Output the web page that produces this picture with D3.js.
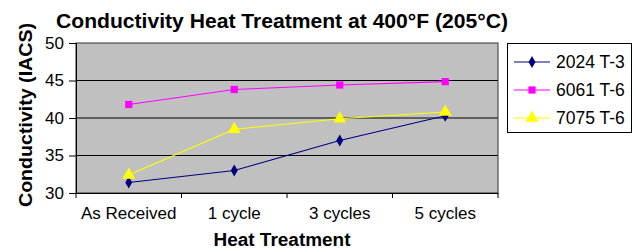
<!DOCTYPE html>
<html><head><meta charset="utf-8">
<script src="https://cdn.jsdelivr.net/npm/d3@7"></script>
<style>body{margin:0;background:#fff}svg{display:block}text{font-family:Arial,"Liberation Sans",sans-serif}</style>
</head><body><svg id="c" width="636" height="252"></svg>
<script>
const categories = ["As Received", "1 cycle", "3 cycles", "5 cycles"];
const seriesNames = ["2024 T-3", "6061 T-6", "7075 T-6"];
const s2024 = [31.4, 33.0, 37.0, 40.3];
const s6061 = [41.8, 43.8, 44.4, 44.85];
const s7075 = [32.4, 38.5, 39.9, 40.8];
const yTicks = [30, 35, 40, 45, 50];
const colors = ["#000080", "#FF00FF", "#FFFF00"];
const symbols = [d3.symbolDiamond, d3.symbolSquare, d3.symbolTriangle];
const symSizes = [42, 52, 72];
const series = [s2024, s6061, s7075];

const svg = d3.select("#c");
const L = 76, R = 498, T = 43, B = 193;
const x = d3.scaleBand().domain(categories).range([L, R]);
const y = d3.scaleLinear().domain([30, 50]).range([B, T]);

svg.append("rect").attr("x", L).attr("y", T).attr("width", R - L).attr("height", B - T)
  .attr("fill", "#C0C0C0");
svg.append("g").selectAll("line").data(yTicks.slice(1, -1)).join("line")
  .attr("x1", L).attr("x2", R).attr("y1", d => y(d)).attr("y2", d => y(d))
  .attr("stroke", "#000").attr("stroke-width", 1);
svg.append("rect").attr("x", L).attr("y", T).attr("width", R - L).attr("height", B - T)
  .attr("fill", "none").attr("stroke", "#333").attr("stroke-width", 1);

const yAx = svg.append("g").attr("transform", `translate(${L},0)`)
  .call(d3.axisLeft(y).tickValues(yTicks).tickSize(7).tickPadding(5));
yAx.select(".domain").attr("stroke", "#000");
yAx.selectAll("text").attr("font-size", 17).attr("fill", "#000");

const xAx = svg.append("g").attr("transform", `translate(0,${B})`)
  .call(d3.axisBottom(x).tickSize(0).tickPadding(14));
xAx.select(".domain").attr("stroke", "#000");
xAx.selectAll("text").attr("font-size", 17).attr("fill", "#000");
const bounds = categories.map(c => x(c)).concat([R]);
svg.append("g").selectAll("line").data(bounds).join("line")
  .attr("x1", d => d).attr("x2", d => d).attr("y1", B).attr("y2", B + 5)
  .attr("stroke", "#000");

const line = d3.line().x((d, i) => x(categories[i]) + x.bandwidth() / 2).y(d => y(d));
series.forEach((s, k) => {
  svg.append("path").datum(s).attr("d", line).attr("fill", "none")
    .attr("stroke", colors[k]).attr("stroke-width", 1.2);
});
series.forEach((s, k) => {
  svg.append("g").selectAll("path").data(s).join("path")
    .attr("transform", (d, i) => `translate(${x(categories[i]) + x.bandwidth() / 2},${y(d)})`)
    .attr("d", d3.symbol().type(symbols[k]).size(symSizes[k]))
    .attr("fill", colors[k]);
});

svg.append("text").attr("x", 282).attr("y", 28).attr("text-anchor", "middle")
  .attr("font-size", 20).attr("font-weight", "bold")
  .attr("textLength", 452).attr("lengthAdjust", "spacingAndGlyphs")
  .text("Conductivity Heat Treatment at 400°F (205°C)");
svg.append("text").attr("transform", `translate(32,115) rotate(-90)`)
  .attr("text-anchor", "middle").attr("font-size", 18.5).attr("font-weight", "bold")
  .attr("textLength", 184).attr("lengthAdjust", "spacingAndGlyphs")
  .text("Conductivity (IACS)");
svg.append("text").attr("x", 282).attr("y", 246).attr("text-anchor", "middle")
  .attr("font-size", 18).attr("font-weight", "bold")
  .attr("textLength", 137).attr("lengthAdjust", "spacingAndGlyphs")
  .text("Heat Treatment");

const lg = svg.append("g");
lg.append("rect").attr("x", 507.5).attr("y", 43.5).attr("width", 124).attr("height", 89)
  .attr("fill", "#fff").attr("stroke", "#000");
seriesNames.forEach((n, k) => {
  const yy = 62 + k * 28;
  lg.append("line").attr("x1", 514).attr("x2", 550).attr("y1", yy).attr("y2", yy)
    .attr("stroke", colors[k]).attr("stroke-width", 1.2);
  lg.append("path").attr("transform", `translate(532,${yy})`)
    .attr("d", d3.symbol().type(symbols[k]).size(symSizes[k])).attr("fill", colors[k]);
  lg.append("text").attr("x", 556).attr("y", yy + 6).attr("font-size", 17.5).text(n);
});
</script></body></html>
